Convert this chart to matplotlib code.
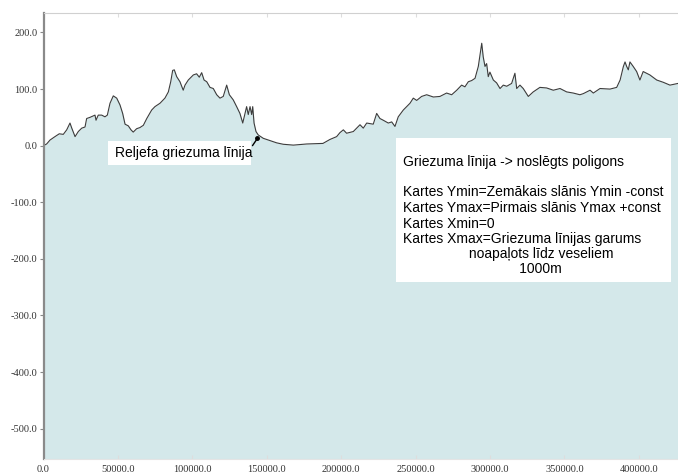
import matplotlib
matplotlib.use("Agg")
import matplotlib.pyplot as plt
import matplotlib.patches as ptc
from matplotlib.ticker import FuncFormatter

# --- profile data: distance along section (m) and elevation (m) ---
dist = [0, 2100, 4400, 7700, 10600, 13300, 15600, 17800, 19000, 21200,
        23400, 25700, 27900, 29000, 31200, 34600, 35300, 36800, 39100, 41300,
        42900, 44700, 46900, 49200, 51400, 53200, 54800, 57000, 58800, 60300,
        62600, 64800, 67100, 69400, 72700, 74900, 78300, 81600, 83900, 85500,
        86800, 87900, 89500, 91700, 93900, 95100, 97300, 100700, 102900, 104700,
        106300, 107900, 109700, 111900, 114100, 116400, 118600, 120800, 123100, 124900,
        127500, 129800, 132000, 133900, 135400, 136500, 137600, 138800, 139900, 140600,
        141500, 142800, 144300, 147700, 152200, 156700, 161100, 167900, 176900, 187800,
        192500, 197000, 199200, 201500, 203700, 208200, 212700, 214900, 217200, 221600,
        223900, 226100, 228300, 231700, 234000, 236200, 238400, 241800, 246300, 248500,
        250800, 254100, 257500, 262000, 266400, 270900, 274300, 277700, 281000, 283200,
        285500, 287700, 290000, 292200, 294500, 295500, 296700, 297800, 298900, 300000,
        302300, 304500, 306800, 309000, 311300, 314600, 316800, 318000, 320200, 322400,
        325800, 329100, 333600, 338100, 342600, 347100, 351600, 356000, 360500, 362800,
        367300, 369500, 374000, 380700, 385200, 387500, 388600, 389700, 390800, 391900,
        393000, 394100, 396300, 398600, 400800, 403000, 407500, 412100, 416500, 421000,
        426400]
elev = [0, 3, 10, 16, 21, 20, 28, 40, 31, 16,
        25, 31, 33, 48, 50, 54, 45, 54, 54, 51,
        54, 75, 88, 84, 72, 57, 38, 35, 28, 24,
        30, 32, 36, 48, 63, 69, 75, 84, 95, 113,
        133, 134, 122, 113, 98, 107, 116, 125, 127, 121,
        129, 116, 113, 103, 101, 90, 84, 87, 107, 90,
        81, 69, 57, 40, 57, 69, 55, 69, 55, 69,
        40, 25, 19, 13, 9, 5, 2.5, 1, 3, 4,
        11, 16, 23, 28, 22, 25, 37, 31, 40, 38,
        57, 48, 45, 40, 42, 34, 51, 63, 75, 84,
        80, 87, 90, 86, 87, 93, 90, 98, 107, 104,
        113, 115, 119, 140, 181, 157, 140, 145, 122, 130,
        116, 111, 101, 107, 105, 110, 128, 101, 107, 101,
        87, 95, 103, 102, 98, 101, 95, 93, 90, 92,
        98, 93, 101, 100, 103, 116, 128, 140, 148, 140,
        134, 148, 140, 131, 116, 131, 125, 116, 112, 107,
        110]

x_ticks = [0, 50000, 100000, 150000, 200000, 250000, 300000, 350000, 400000]
y_ticks = [200, 100, 0, -100, -200, -300, -400, -500]

label_cut = "Reljefa griezuma līnija"
note_lines = [
    "Griezuma līnija -> noslēgts poligons",
    "",
    "Kartes Ymin=Zemākais slānis Ymin -const",
    "Kartes Ymax=Pirmais slānis Ymax +const",
    "Kartes Xmin=0",
    "Kartes Xmax=Griezuma līnijas garums",
    "                 noapaļots līdz veseliem",
    "                              1000m",
]

W, H = 678, 476
Y_MIN, Y_MAX = -553.6, 233.9
X_MAX = 426400

fig = plt.figure(figsize=(W / 100, H / 100), dpi=100)
ax = fig.add_axes([43.5 / W, (H - 459) / H, 1 - 43.5 / W, (459 - 13.3) / H])

ax.fill_between(dist, elev, Y_MIN, color="#d4e8ea", lw=0)
ax.plot(dist, elev, color="#3c3c3c", lw=0.8)

ax.set_xlim(0, X_MAX)
ax.set_ylim(Y_MIN, Y_MAX)
ax.set_xticks(x_ticks)
ax.set_yticks(y_ticks)
fmt = FuncFormatter(lambda v, p: f"{v:.1f}")
ax.xaxis.set_major_formatter(fmt)
ax.yaxis.set_major_formatter(fmt)

for lab in ax.get_xticklabels() + ax.get_yticklabels():
    lab.set_fontfamily("Liberation Serif")
    lab.set_fontsize(7.5)
    lab.set_color("#333333")

ax.tick_params(axis="x", which="both", direction="in", length=3, pad=4.5,
               color="#dddddd", top=True, bottom=True)
ax.tick_params(axis="y", direction="out", length=3, pad=1.5, color="#888888")

ax.spines["right"].set_visible(False)
ax.spines["top"].set_color("#d0d0d0")
ax.spines["bottom"].set_color("#e4e4e4")
ax.spines["left"].set_color("#8a8a8a")
ax.spines["left"].set_linewidth(1.6)

# small label for the cut line
ax.add_patch(ptc.Rectangle((108 / W, (H - 165) / H), (251 - 108) / W, 24 / H,
                           transform=fig.transFigure, facecolor="white",
                           edgecolor="none", zorder=5))
fig.text(115 / W, (H - 153) / H, label_cut, family="Liberation Sans",
         fontsize=10, va="center", ha="left", zorder=6)
ax.annotate("", xy=(144300, 15), xytext=(139400, -4),
            arrowprops=dict(arrowstyle="-", color="black", lw=1.0), zorder=6)
ax.plot([143800], [14], "o", color="black", ms=2.5, zorder=6)

# explanation box
ax.add_patch(ptc.Rectangle((396 / W, (H - 282) / H), (671 - 396) / W, 144 / H,
                           transform=fig.transFigure, facecolor="white",
                           edgecolor="none", zorder=5))
line_y = [162, 177, 192.5, 207.5, 223.5, 239, 254, 269]
for txt, yy in zip(note_lines, line_y):
    if txt:
        fig.text(403 / W, (H - yy) / H, txt, family="Liberation Sans",
                 fontsize=10, va="center", ha="left", zorder=6)

fig.savefig("out.png", dpi=100)
